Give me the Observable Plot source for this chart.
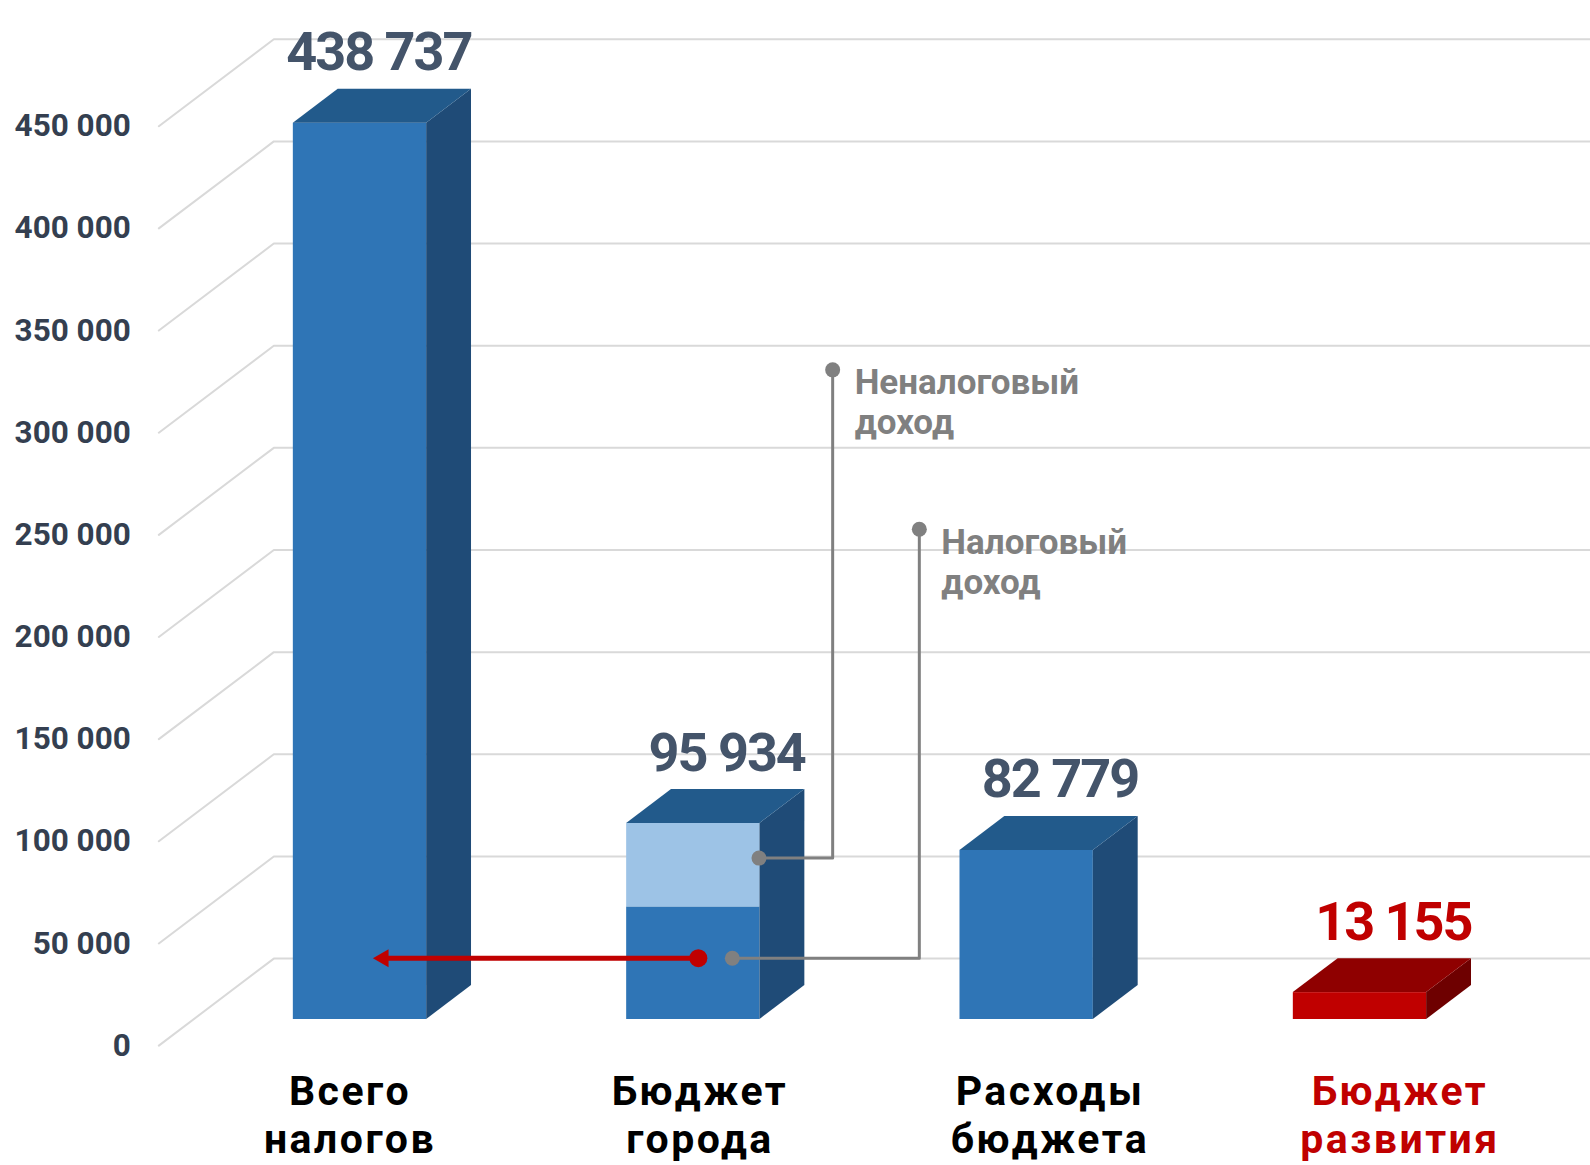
<!DOCTYPE html>
<html><head><meta charset="utf-8">
<script src="https://cdn.jsdelivr.net/npm/d3@7"></script>
<script src="https://cdn.jsdelivr.net/npm/@observablehq/plot@0.6"></script>
<style>
html,body{margin:0;padding:0;background:#fff;overflow:hidden;}
#chart svg{display:block;}
</style></head><body><div id="chart"></div>
<script>
// ---------- data ----------
const categories = ["Всего\nналогов", "Бюджет\nгорода", "Расходы\nбюджета", "Бюджет\nразвития"];
const totals = [438737, 95934, 82779, 13155];
const valueLabels = ["438 737", "95 934", "82 779", "13 155"];
const cityParts = ["Налоговый доход", "Неналоговый доход"];
const cityPartValues = [55100, 40834];
const yTicks = [0, 50000, 100000, 150000, 200000, 250000, 300000, 350000, 400000, 450000];
const yTickLabels = ["0", "50 000", "100 000", "150 000", "200 000", "250 000", "300 000", "350 000", "400 000", "450 000"];
const calloutLabels = ["Неналоговый\nдоход", "Налоговый\nдоход"];
const calloutFrom = [79000, 30000];
const calloutTo = [318000, 240000];
const arrowLevel = 30000;

// ---------- layout / style ----------
const W = 1590, H = 1165;
const X0 = 359.5, XSTEP = 333.33;      // px of first bar centre, px per category step
const Y0 = 1019, KY = 0.002043;        // px of bar floor, px per unit
const DEPTH = [115, 87];               // full floor depth in px (right, up)
const FRONT = 0.3, BARD = 0.39, HALF = 0.2;
const dX = f => f * DEPTH[0] / XSTEP;
const dY = f => f * DEPTH[1] / KY;
const xEnd = (W - X0) / XSTEP;
const calloutStartX = [1.197, 1.117];
const calloutElbowX = [1.418, 1.678];
const arrowStartX = 1.015, arrowTipX = 0.07;
const LABEL_SPREAD = 1.05, LABEL_SHIFT = -0.03;

const BLUE = {front: "#2f75b6", top: "#225a8b", side: "#1f4b77"};
const LIGHT = "#9dc3e6";
const RED = {front: "#c00000", top: "#8f0000", side: "#6e0000"};
const pal = i => i === 3 ? RED : BLUE;
const GRID = "#d9d9d9", GREY = "#808080", RED_ARROW = "#c00000";

// ---------- derived geometry (data units) ----------
const grid = yTicks.flatMap(v => [
  {t: v, x: -0.5 - dX(FRONT), y: v - dY(FRONT)},
  {t: v, x: -0.5 + dX(1 - FRONT), y: v + dY(1 - FRONT)},
  {t: v, x: xEnd, y: v + dY(1 - FRONT)}
]);

const fronts = [];
totals.forEach((v, i) => {
  if (i === 1) {
    fronts.push({x1: i - HALF, x2: i + HALF, y1: 0, y2: cityPartValues[0], fill: BLUE.front});
    fronts.push({x1: i - HALF, x2: i + HALF, y1: cityPartValues[0], y2: cityPartValues[0] + cityPartValues[1], fill: LIGHT});
  } else {
    fronts.push({x1: i - HALF, x2: i + HALF, y1: 0, y2: v, fill: pal(i).front});
  }
});
const bx = dX(BARD), by = dY(BARD);
const sides = totals.flatMap((v, i) => [
  {id: i, x: i + HALF, y1: 0, y2: v, fill: pal(i).side},
  {id: i, x: i + HALF + bx, y1: by, y2: v + by, fill: pal(i).side}
]);
const tops = totals.flatMap((v, i) => [
  {id: i, x: i - HALF, y1: v, y2: v, fill: pal(i).top},
  {id: i, x: i - HALF + bx, y1: v, y2: v + by, fill: pal(i).top},
  {id: i, x: i + HALF, y1: v, y2: v + by, fill: pal(i).top},
  {id: i, x: i + HALF + bx, y1: v + by, y2: v + by, fill: pal(i).top}
]);
const callLines = calloutLabels.flatMap((l, k) => [
  {k, x: calloutStartX[k], y: calloutFrom[k]},
  {k, x: calloutElbowX[k], y: calloutFrom[k]},
  {k, x: calloutElbowX[k], y: calloutTo[k]}
]);

const chart = Plot.plot({
  width: W, height: H,
  marginTop: 0, marginRight: 0, marginBottom: 0, marginLeft: 0,
  x: {domain: [0, 3], range: [X0, X0 + 3 * XSTEP], axis: null},
  y: {domain: [0, 450000], range: [Y0, Y0 - 450000 * KY], axis: null},
  color: {type: "identity"},
  style: {fontFamily: "Roboto, 'Noto Sans', sans-serif", background: "white"},
  marks: [
    Plot.line(grid, {x: "x", y: "y", z: "t", stroke: GRID, strokeWidth: 2}),
    Plot.text(yTicks, {x: -0.5 - dX(FRONT), y: d => d - dY(FRONT), text: (d, i) => yTickLabels[i],
      textAnchor: "end", dx: -28, fontSize: 31.5, fontWeight: 700, fill: "#343f50"}),
    Plot.rect(fronts, {x1: "x1", x2: "x2", y1: "y1", y2: "y2", fill: "fill"}),
    Plot.area(sides, {x1: "x", y1: "y1", y2: "y2", z: "id", fill: "fill"}),
    Plot.area(tops, {x1: "x", y1: "y1", y2: "y2", z: "id", fill: "fill"}),
    Plot.text(totals, {x: (d, i) => i + HALF + bx, y: d => d + by, text: (d, i) => valueLabels[i],
      textAnchor: "end", lineAnchor: "bottom", dy: -19, fontSize: 54, fontWeight: 700,
      fill: (d, i) => i === 3 ? RED.front : "#44546a"}),
    Plot.line(callLines, {x: "x", y: "y", z: "k", stroke: GREY, strokeWidth: 3}),
    Plot.dot(callLines.filter((d, j) => j % 3 !== 1), {x: "x", y: "y", r: 7.5, fill: GREY}),
    Plot.text(calloutLabels, {x: (d, k) => calloutElbowX[k], y: (d, k) => calloutTo[k], text: d => d,
      textAnchor: "start", lineAnchor: "top", lineHeight: 1.143, dx: 22, dy: -4,
      fontSize: 35, fontWeight: 700, fill: GREY}),
    Plot.line([{x: arrowStartX, y: arrowLevel}, {x: arrowTipX, y: arrowLevel}], {x: "x", y: "y", stroke: RED_ARROW, strokeWidth: 5}),
    Plot.dot([{x: arrowStartX, y: arrowLevel}], {x: "x", y: "y", r: 9, fill: RED_ARROW}),
    Plot.dot([{x: arrowTipX, y: arrowLevel}], {x: "x", y: "y", r: 6.7, symbol: "triangle", rotate: -90, fill: RED_ARROW}),
    Plot.text(categories, {x: (d, i) => i * LABEL_SPREAD + LABEL_SHIFT, y: 0, text: d => d, dy: 51,
      lineAnchor: "top", lineHeight: 1.17, fontSize: 41, fontWeight: 700,
      fill: (d, i) => i === 3 ? RED.front : "#000000"})
  ]
});
document.getElementById("chart").appendChild(chart);
const catFlat = categories.map(s => s.replace("\n", ""));
d3.select(chart).selectAll("text").each(function () {
  const t = this.textContent;
  if (valueLabels.includes(t)) d3.select(this).style("letter-spacing", "-2px");
  else if (catFlat.includes(t)) d3.select(this).style("letter-spacing", "2.5px");
});
</script></body></html>
